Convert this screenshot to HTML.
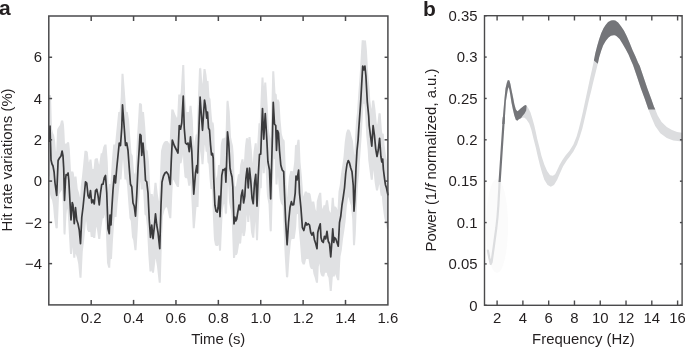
<!DOCTYPE html>
<html><head><meta charset="utf-8"><title>Figure</title>
<style>
html,body{margin:0;padding:0;background:#fff;}
body{width:685px;height:348px;overflow:hidden;font-family:"Liberation Sans",sans-serif;}
svg{display:block;will-change:transform;}
</style></head><body>
<svg width="685" height="348" viewBox="0 0 685 348"><rect width="685" height="348" fill="#fff"/><polygon points="49.00,95.00 49.25,95.00 49.50,95.00 49.75,95.00 50.00,95.00 50.25,95.00 50.50,95.00 50.75,95.00 51.00,95.00 51.25,103.50 51.50,112.00 51.75,120.50 52.00,129.00 52.25,130.00 52.50,131.00 52.75,132.00 53.00,133.00 53.25,133.50 53.50,134.00 53.75,134.50 54.00,135.00 54.10,135.55 54.25,136.36 54.50,137.73 54.75,139.09 55.00,140.45 55.25,142.83 55.50,145.89 55.75,148.94 56.00,152.00 56.25,150.75 56.50,144.50 56.70,139.50 56.75,138.25 57.00,132.00 57.25,129.23 57.50,128.79 57.75,128.34 58.00,127.89 58.10,127.71 58.25,127.45 58.50,127.00 58.75,126.67 59.00,126.33 59.25,126.00 59.50,125.67 59.75,125.33 60.00,125.00 60.25,123.86 60.50,122.73 60.75,121.59 61.00,120.45 61.25,120.45 61.50,120.45 61.75,120.45 62.00,120.45 62.10,120.00 62.25,120.45 62.50,120.45 62.75,120.45 63.00,120.45 63.25,120.83 63.50,122.22 63.70,123.33 63.75,123.61 64.00,125.00 64.25,129.29 64.50,133.57 64.75,139.03 65.00,144.42 65.25,143.56 65.50,143.56 65.75,143.56 66.00,143.56 66.10,143.50 66.25,143.56 66.50,143.50 66.75,142.88 67.00,142.25 67.25,142.25 67.30,142.12 67.50,142.25 67.75,142.25 68.00,142.25 68.10,142.00 68.25,142.25 68.50,142.25 68.75,142.25 68.80,142.12 69.00,142.25 69.25,143.50 69.50,146.00 69.75,148.50 69.80,149.00 70.00,152.70 70.25,157.33 70.50,161.95 70.75,166.58 71.00,171.08 71.25,171.50 71.50,171.50 71.75,171.50 72.00,171.50 72.25,171.50 72.50,171.50 72.75,171.50 73.00,171.50 73.25,171.50 73.50,172.33 73.75,173.17 74.00,174.00 74.25,177.75 74.50,176.50 74.75,176.50 75.00,176.50 75.25,176.50 75.50,176.50 75.75,176.50 76.00,176.50 76.25,176.50 76.50,176.50 76.75,179.00 77.00,181.50 77.25,184.00 77.50,186.50 77.75,189.00 78.00,189.75 78.25,190.50 78.50,191.25 78.75,192.00 79.00,192.75 79.25,194.00 79.50,195.25 79.75,196.50 80.00,197.75 80.25,197.00 80.50,191.75 80.75,186.50 81.00,184.50 81.25,182.50 81.50,180.50 81.75,178.50 82.00,176.50 82.25,174.00 82.50,171.50 82.75,169.00 83.00,166.50 83.25,164.00 83.50,161.35 83.75,158.70 84.00,156.05 84.25,153.40 84.50,150.75 84.75,150.75 85.00,150.75 85.25,150.75 85.50,150.75 85.75,150.75 86.00,150.75 86.25,150.75 86.50,150.75 86.75,151.00 87.00,151.25 87.25,151.50 87.50,151.75 87.75,152.00 88.00,154.50 88.25,157.00 88.50,159.50 88.75,162.00 89.00,162.50 89.25,161.00 89.50,159.50 89.75,159.50 90.00,159.50 90.25,159.50 90.50,159.50 90.75,159.50 91.00,159.50 91.25,159.50 91.50,159.50 91.75,162.00 92.00,164.50 92.25,167.00 92.50,169.00 92.75,169.00 93.00,169.00 93.25,169.00 93.50,169.00 93.75,167.60 94.00,164.90 94.25,162.20 94.50,159.50 94.75,159.25 95.00,159.00 95.25,158.75 95.50,158.50 95.75,158.25 96.00,158.25 96.25,158.25 96.50,158.25 96.75,158.25 97.00,158.25 97.25,158.25 97.50,158.25 97.75,158.25 98.00,159.50 98.25,160.75 98.50,162.00 98.75,163.25 99.00,164.50 99.25,164.40 99.50,162.00 99.75,160.25 100.00,158.50 100.25,156.75 100.50,155.00 100.75,153.25 101.00,153.25 101.25,153.25 101.50,153.25 101.75,153.25 102.00,153.25 102.25,152.00 102.50,150.75 102.75,149.50 103.00,148.25 103.25,147.00 103.50,146.50 103.75,146.00 104.00,145.50 104.25,145.00 104.50,144.50 104.75,144.50 105.00,144.50 105.25,144.50 105.50,144.50 105.75,144.50 106.00,144.50 106.25,144.50 106.50,144.50 106.75,148.00 107.00,151.50 107.25,155.00 107.50,158.50 107.75,162.00 108.00,169.15 108.25,176.30 108.50,183.45 108.75,190.25 109.00,184.00 109.25,184.00 109.50,184.00 109.75,184.00 110.00,184.00 110.25,184.00 110.50,184.00 110.75,179.00 111.00,175.00 111.25,171.00 111.50,167.00 111.75,163.00 112.00,159.00 112.25,156.10 112.50,153.20 112.75,150.30 113.00,147.40 113.25,144.50 113.50,144.50 113.75,144.50 114.00,144.50 114.25,144.50 114.50,144.50 114.75,144.50 115.00,144.50 115.25,143.00 115.50,140.00 115.75,137.00 116.00,134.50 116.25,132.00 116.50,129.50 116.75,127.00 117.00,124.50 117.25,122.00 117.50,119.50 117.75,117.00 118.00,114.50 118.25,112.00 118.50,112.00 118.75,112.00 119.00,112.00 119.25,112.00 119.50,112.00 119.75,111.00 120.00,107.50 120.25,104.00 120.50,100.50 120.75,97.00 121.00,89.25 121.25,81.50 121.50,73.75 121.75,73.75 122.00,73.75 122.25,73.75 122.50,73.75 122.75,73.75 123.00,73.75 123.25,73.75 123.50,73.75 123.75,77.07 124.00,80.39 124.25,83.71 124.50,87.04 124.75,90.36 125.00,93.68 125.25,97.00 125.50,100.50 125.75,104.00 126.00,107.50 126.25,111.00 126.50,112.00 126.75,112.00 127.00,112.00 127.25,112.00 127.50,112.00 127.75,112.00 128.00,113.50 128.25,115.00 128.50,116.50 128.75,118.00 129.00,119.50 129.25,123.00 129.50,126.50 129.75,130.00 130.00,133.50 130.25,137.00 130.50,140.25 130.75,143.50 131.00,146.75 131.25,150.00 131.50,153.25 131.75,153.75 132.00,154.25 132.25,154.75 132.50,155.25 132.75,155.75 133.00,159.00 133.25,162.25 133.50,165.50 133.75,168.75 134.00,172.00 134.25,172.65 134.50,173.30 134.75,173.95 135.00,174.60 135.25,172.50 135.50,168.25 135.75,164.00 136.00,158.60 136.25,153.20 136.50,147.80 136.75,142.40 137.00,137.00 137.25,133.00 137.50,129.00 137.75,125.00 138.00,121.00 138.25,117.00 138.50,112.42 138.75,107.83 139.00,103.25 139.25,103.25 139.50,103.25 139.75,103.25 140.00,103.25 140.25,103.25 140.50,103.25 140.75,103.25 141.00,103.25 141.25,103.56 141.50,103.88 141.75,104.19 142.00,104.50 142.25,111.17 142.50,112.00 142.75,112.00 143.00,112.00 143.25,112.00 143.50,112.00 143.75,112.00 144.00,112.00 144.25,115.00 144.50,118.00 144.75,121.00 145.00,124.00 145.25,127.00 145.50,131.50 145.75,136.00 146.00,140.50 146.25,145.00 146.50,149.50 146.75,149.75 147.00,150.00 147.25,150.25 147.50,150.50 147.75,150.75 148.00,153.00 148.25,155.25 148.50,157.50 148.75,159.75 149.00,162.00 149.25,167.40 149.50,172.80 149.75,178.20 150.00,183.60 150.25,189.00 150.50,192.50 150.75,194.00 151.00,194.00 151.25,194.00 151.50,194.00 151.75,194.00 152.00,194.00 152.25,194.00 152.50,194.00 152.75,194.00 153.00,196.75 153.25,196.50 153.50,193.75 153.75,191.00 154.00,188.25 154.25,185.50 154.50,182.75 154.75,182.75 155.00,182.75 155.25,182.75 155.50,182.75 155.75,182.75 156.00,182.75 156.25,182.75 156.50,182.75 156.75,185.00 157.00,187.25 157.25,189.50 157.50,191.75 157.75,194.00 158.00,195.50 158.25,197.00 158.50,198.50 158.75,200.00 159.00,201.50 159.25,200.25 159.50,191.50 159.75,182.75 160.00,174.00 160.25,168.25 160.50,162.50 160.75,156.75 161.00,151.00 161.25,150.00 161.50,149.00 161.75,148.00 162.00,147.00 162.25,146.00 162.50,145.00 162.75,144.50 163.00,144.00 163.25,143.50 163.50,143.00 163.75,142.50 164.00,142.00 164.25,141.83 164.50,141.67 164.75,141.50 165.00,141.33 165.25,141.17 165.50,141.00 165.75,141.00 166.00,141.00 166.25,141.00 166.50,141.00 166.75,141.00 167.00,141.00 167.25,141.00 167.50,141.00 167.75,141.33 168.00,141.67 168.25,142.00 168.30,142.07 168.50,142.33 168.75,142.67 169.00,143.00 169.25,143.33 169.50,144.41 169.75,142.48 170.00,136.35 170.25,130.23 170.30,129.00 170.50,125.00 170.75,120.00 171.00,115.00 171.25,110.00 171.30,109.00 171.50,109.56 171.75,109.56 172.00,109.56 172.25,109.56 172.30,109.00 172.50,109.56 172.75,109.56 173.00,109.56 173.25,109.56 173.50,109.56 173.75,110.27 174.00,110.97 174.25,111.68 174.50,112.38 174.75,113.09 175.00,113.79 175.25,114.50 175.50,115.00 175.75,115.50 176.00,116.00 176.25,116.50 176.50,117.00 176.75,117.50 177.00,118.00 177.25,116.50 177.50,111.00 177.75,105.50 178.00,100.00 178.25,94.50 178.50,94.50 178.75,94.50 179.00,94.50 179.25,94.50 179.50,94.50 179.75,94.50 180.00,94.50 180.25,94.50 180.50,93.25 180.75,92.00 181.00,87.50 181.25,83.00 181.50,78.50 181.75,74.00 182.00,69.50 182.25,65.00 182.50,65.00 182.75,65.00 183.00,65.00 183.25,65.00 183.50,65.00 183.75,65.00 184.00,65.00 184.25,65.00 184.50,73.00 184.75,81.00 185.00,89.00 185.25,97.00 185.50,100.00 185.75,103.00 186.00,106.00 186.25,109.00 186.50,112.00 186.75,112.25 187.00,112.00 187.25,112.00 187.50,112.00 187.75,112.00 188.00,112.00 188.25,112.00 188.50,112.00 188.75,112.00 189.00,111.75 189.25,108.75 189.50,105.75 189.75,105.75 190.00,105.75 190.25,105.75 190.50,105.75 190.75,105.75 191.00,105.75 191.25,105.75 191.50,105.75 191.75,108.50 192.00,111.25 192.25,114.00 192.50,116.75 192.75,119.50 193.00,125.00 193.25,130.50 193.50,136.00 193.75,141.50 194.00,147.00 194.25,145.04 194.50,142.00 194.75,140.50 195.00,139.00 195.25,137.50 195.50,136.00 195.75,134.50 196.00,134.50 196.25,134.50 196.50,134.50 196.75,133.25 197.00,124.50 197.25,117.40 197.50,110.30 197.75,103.20 198.00,96.10 198.25,89.00 198.50,82.24 198.75,75.47 199.00,68.71 199.25,68.17 199.50,68.17 199.75,68.17 200.00,68.17 200.10,66.00 200.25,68.17 200.50,68.17 200.75,68.17 201.00,68.17 201.25,68.17 201.50,71.78 201.75,75.39 202.00,79.00 202.25,82.38 202.50,84.00 202.75,80.25 203.00,76.50 203.25,72.75 203.50,69.00 203.75,69.00 204.00,69.00 204.25,69.00 204.50,69.00 204.75,69.00 205.00,69.00 205.25,69.00 205.50,69.00 205.75,70.50 206.00,72.00 206.25,73.50 206.50,75.00 206.70,77.03 206.75,77.54 207.00,80.08 207.25,81.10 207.50,81.10 207.75,81.10 208.00,81.10 208.25,81.10 208.50,81.10 208.75,85.12 209.00,89.15 209.25,93.17 209.50,97.20 209.75,97.65 210.00,98.10 210.25,98.55 210.50,99.00 210.75,102.57 211.00,106.15 211.25,109.73 211.50,113.30 211.75,115.98 212.00,118.65 212.25,121.32 212.50,122.40 212.75,122.40 213.00,122.40 213.20,122.48 213.25,122.40 213.50,122.40 213.70,123.71 213.75,124.04 214.00,125.69 214.25,128.96 214.50,138.76 214.75,147.75 214.90,151.20 215.00,153.50 215.25,159.25 215.50,165.00 215.75,170.75 216.00,174.73 216.25,176.05 216.50,177.36 216.75,178.28 217.00,177.00 217.20,174.60 217.25,174.00 217.50,171.00 217.75,168.00 218.00,165.00 218.25,165.00 218.50,165.00 218.75,165.00 219.00,165.00 219.25,165.00 219.50,165.00 219.75,165.00 220.00,162.26 220.25,156.65 220.50,151.04 220.70,146.55 220.75,145.42 221.00,143.33 221.25,142.13 221.50,140.92 221.75,139.71 221.80,139.47 222.00,138.50 222.25,138.50 222.50,138.50 222.75,138.50 223.00,138.50 223.25,138.50 223.50,138.50 223.75,138.12 224.00,137.72 224.20,137.40 224.25,137.72 224.50,137.72 224.75,137.72 225.00,137.72 225.20,137.40 225.25,137.72 225.50,134.55 225.75,127.23 225.90,121.94 226.00,118.41 226.25,109.58 226.50,100.75 226.70,102.52 226.75,100.75 227.00,100.75 227.25,100.75 227.50,100.75 227.75,100.75 228.00,100.75 228.25,100.75 228.50,100.75 228.75,103.00 229.00,105.25 229.25,107.50 229.50,109.75 229.75,112.00 230.00,117.00 230.25,122.00 230.50,127.00 230.75,132.00 231.00,137.00 231.25,138.25 231.50,139.50 231.75,140.75 232.00,142.00 232.25,143.00 232.50,144.00 232.75,145.00 232.80,145.20 233.00,146.00 233.25,149.06 233.50,152.12 233.75,155.19 234.00,162.00 234.25,169.75 234.50,177.50 234.75,185.25 234.90,186.00 235.00,186.50 235.25,186.50 235.50,186.50 235.70,186.25 235.75,186.50 236.00,186.09 236.25,184.50 236.50,182.91 236.70,181.64 236.75,181.32 237.00,179.87 237.25,178.45 237.50,177.03 237.75,175.62 237.80,175.33 238.00,174.20 238.25,174.20 238.50,174.20 238.75,174.20 239.00,174.20 239.25,174.20 239.50,173.91 239.75,170.73 240.00,167.55 240.10,166.27 240.25,164.78 240.50,163.66 240.75,162.55 241.00,161.43 241.20,160.54 241.25,160.32 241.50,159.20 241.75,159.20 242.00,159.20 242.25,159.20 242.50,159.20 242.75,159.20 243.00,159.20 243.25,159.20 243.50,159.20 243.60,160.36 243.75,162.11 244.00,161.73 244.25,157.64 244.50,153.55 244.75,149.45 244.80,148.64 245.00,146.20 245.25,144.20 245.50,142.20 245.75,140.20 245.90,139.00 246.00,138.20 246.25,138.20 246.50,138.20 246.75,138.20 247.00,138.20 247.10,137.40 247.25,138.20 247.50,138.20 247.75,138.20 248.00,138.20 248.25,139.96 248.50,137.00 248.75,137.00 249.00,137.00 249.25,137.00 249.50,137.00 249.75,137.00 250.00,137.00 250.25,137.00 250.50,137.00 250.75,139.50 251.00,142.00 251.25,144.50 251.50,147.00 251.75,149.50 252.00,153.00 252.25,156.50 252.50,160.00 252.75,163.50 253.00,160.30 253.25,156.15 253.50,152.00 253.75,150.25 254.00,148.50 254.25,146.75 254.50,145.00 254.75,143.25 255.00,143.25 255.25,143.25 255.50,143.25 255.75,143.25 256.00,143.25 256.25,143.25 256.50,143.25 256.75,143.25 257.00,149.65 257.25,144.50 257.50,140.25 257.75,136.00 258.00,131.75 258.25,127.50 258.50,123.25 258.75,123.25 259.00,123.25 259.25,123.25 259.50,123.25 259.75,123.25 260.00,116.17 260.25,109.08 260.50,102.00 260.75,95.88 261.00,89.75 261.25,83.62 261.50,77.50 261.75,77.50 262.00,77.50 262.25,77.50 262.50,77.50 262.75,77.50 263.00,77.50 263.25,77.50 263.50,77.50 263.75,83.65 264.00,86.79 264.25,82.50 264.50,82.50 264.75,82.50 265.00,82.50 265.25,82.50 265.50,82.50 265.75,82.50 266.00,82.50 266.25,82.50 266.50,86.50 266.75,90.50 267.00,94.50 267.25,98.88 267.50,103.25 267.75,107.62 267.90,110.25 268.00,112.00 268.25,117.14 268.50,122.28 268.75,127.42 269.00,131.03 269.25,132.36 269.50,133.69 269.75,135.02 270.00,136.34 270.25,137.67 270.50,138.67 270.70,131.33 270.75,129.50 271.00,120.33 271.25,111.17 271.50,102.00 271.75,91.75 272.00,81.50 272.25,71.25 272.50,71.25 272.75,71.25 273.00,71.25 273.25,71.25 273.50,71.25 273.75,71.25 274.00,71.25 274.25,71.25 274.50,75.65 274.75,80.05 275.00,84.45 275.25,88.85 275.50,93.25 275.75,93.50 276.00,93.75 276.25,94.00 276.50,94.25 276.75,94.50 277.00,99.50 277.25,99.50 277.50,99.50 277.75,99.50 278.00,99.50 278.25,99.50 278.50,99.50 278.75,100.12 279.00,100.75 279.25,101.38 279.50,102.00 279.75,106.38 280.00,110.75 280.25,115.12 280.50,119.50 280.75,122.29 280.80,122.85 281.00,125.08 281.25,127.87 281.50,130.65 281.75,133.44 282.00,134.71 282.20,135.43 282.25,135.61 282.50,136.50 282.75,137.39 283.00,138.29 283.25,139.05 283.50,139.32 283.70,139.53 283.75,139.59 284.00,139.85 284.25,140.12 284.50,140.39 284.75,141.94 285.00,148.63 285.25,155.31 285.50,162.00 285.70,166.80 285.75,168.00 286.00,174.00 286.25,180.00 286.50,186.00 286.75,191.62 287.00,195.73 287.10,197.37 287.25,196.17 287.50,192.33 287.75,189.27 288.00,186.71 288.25,184.16 288.50,181.61 288.60,180.59 288.75,179.05 289.00,176.50 289.25,175.46 289.50,174.43 289.75,173.39 290.00,172.36 290.25,171.32 290.50,171.00 290.75,171.00 291.00,171.00 291.25,171.00 291.40,170.70 291.50,171.00 291.75,171.00 292.00,171.00 292.25,171.00 292.50,171.00 292.75,171.75 293.00,171.30 293.25,169.38 293.50,167.47 293.70,165.93 293.75,165.55 294.00,163.63 294.25,161.03 294.50,155.69 294.75,150.34 295.00,145.00 295.20,145.80 295.25,145.00 295.50,145.00 295.75,145.00 296.00,145.00 296.25,145.00 296.50,145.00 296.75,144.36 297.00,142.81 297.25,141.27 297.50,139.72 297.75,139.72 298.00,139.72 298.25,139.72 298.50,139.72 298.60,139.10 298.75,139.72 299.00,139.72 299.25,139.72 299.50,139.72 299.75,142.93 300.00,149.32 300.25,155.71 300.50,162.10 300.75,164.67 300.90,166.21 301.00,167.24 301.25,169.81 301.50,172.39 301.75,174.96 302.00,177.84 302.25,181.19 302.40,183.20 302.50,184.54 302.75,187.89 303.00,191.24 303.25,194.59 303.50,196.63 303.75,195.60 303.80,195.40 304.00,194.58 304.25,193.55 304.50,192.53 304.75,191.50 305.00,191.50 305.25,191.50 305.50,191.50 305.75,191.50 306.00,191.50 306.25,191.50 306.50,191.50 306.75,191.50 307.00,192.00 307.25,192.50 307.50,192.75 307.75,192.75 308.00,192.75 308.25,192.75 308.50,192.75 308.75,192.75 309.00,192.75 309.25,192.75 309.50,193.00 309.75,193.25 310.00,193.50 310.25,193.75 310.50,194.00 310.75,195.50 311.00,197.00 311.25,198.50 311.50,200.00 311.75,201.50 312.00,202.00 312.25,201.50 312.50,201.50 312.75,201.50 313.00,201.50 313.25,201.50 313.50,201.50 313.75,201.50 314.00,201.50 314.25,201.50 314.50,203.00 314.75,204.50 315.00,206.00 315.25,207.50 315.50,209.00 315.75,209.75 316.00,210.50 316.25,211.25 316.50,206.92 316.75,201.50 317.00,200.50 317.25,199.50 317.50,198.50 317.75,197.50 318.00,196.50 318.25,195.75 318.50,195.00 318.75,194.25 319.00,193.50 319.25,192.75 319.50,192.75 319.75,192.75 320.00,192.75 320.25,192.75 320.50,192.75 320.75,192.75 321.00,192.75 321.25,192.75 321.50,197.33 321.75,201.92 322.00,206.50 322.25,207.44 322.50,208.38 322.75,209.00 323.00,207.75 323.25,206.50 323.50,205.25 323.75,205.25 324.00,205.25 324.25,205.25 324.50,205.25 324.75,205.25 325.00,205.25 325.25,204.75 325.50,203.25 325.75,201.75 326.00,200.25 326.25,200.25 326.50,200.25 326.75,200.25 327.00,200.25 327.25,200.25 327.50,200.25 327.75,200.25 328.00,200.25 328.25,202.25 328.50,204.25 328.75,206.25 329.00,208.25 329.25,210.25 329.50,210.75 329.75,211.25 330.00,211.75 330.25,212.25 330.50,212.75 330.75,212.40 331.00,209.00 331.25,205.25 331.50,201.50 331.75,197.75 332.00,197.75 332.25,197.75 332.50,197.75 332.75,197.75 333.00,197.75 333.25,197.75 333.50,197.75 333.75,197.75 334.00,201.19 334.25,204.62 334.50,206.50 334.75,206.50 335.00,206.50 335.25,206.50 335.50,206.50 335.75,206.75 336.00,207.00 336.25,207.25 336.50,207.50 336.75,207.75 337.00,208.50 337.25,209.25 337.50,210.00 337.75,205.75 338.00,201.00 338.25,196.25 338.50,191.50 338.75,190.25 339.00,189.00 339.25,187.75 339.50,186.50 339.75,185.25 340.00,183.00 340.25,180.75 340.50,178.50 340.75,176.25 341.00,174.00 341.25,172.40 341.50,170.80 341.75,169.20 342.00,167.60 342.25,166.00 342.50,164.20 342.75,162.40 343.00,160.60 343.25,158.80 343.50,157.00 343.75,154.00 344.00,151.00 344.25,148.00 344.50,145.00 344.75,142.00 345.00,140.25 345.25,138.50 345.50,136.75 345.75,135.00 346.00,133.25 346.25,132.50 346.50,131.75 346.75,131.00 347.00,130.25 347.25,129.50 347.50,129.50 347.75,129.50 348.00,129.50 348.25,129.50 348.50,129.50 348.75,129.50 349.00,129.50 349.25,129.50 349.50,130.00 349.75,130.50 350.00,131.00 350.25,131.50 350.50,132.00 350.75,133.00 351.00,134.00 351.25,135.00 351.50,136.00 351.75,137.00 352.00,137.75 352.25,138.62 352.50,139.50 352.75,140.38 353.00,141.25 353.25,144.12 353.50,147.00 353.75,149.88 354.00,152.75 354.25,155.62 354.50,151.05 354.75,144.78 355.00,138.50 355.25,134.25 355.50,130.00 355.75,125.75 356.00,121.50 356.25,119.24 356.50,116.98 356.75,114.72 357.00,112.45 357.25,109.13 357.50,105.08 357.75,101.17 358.00,97.77 358.10,96.41 358.25,94.37 358.50,90.97 358.70,88.25 358.75,87.57 359.00,84.17 359.25,80.77 359.50,77.37 359.75,73.78 360.00,69.43 360.25,65.08 360.50,60.73 360.70,57.25 360.75,56.38 361.00,52.03 361.25,47.68 361.50,43.33 361.75,40.08 362.00,40.20 362.25,40.20 362.50,40.20 362.70,40.00 362.75,40.20 363.00,40.20 363.25,40.20 363.50,40.20 363.70,40.00 363.75,40.20 364.00,40.50 364.25,40.50 364.50,40.50 364.75,40.50 364.90,40.00 365.00,40.50 365.25,40.50 365.50,40.50 365.75,40.50 365.90,40.00 366.00,41.00 366.25,43.50 366.50,46.00 366.75,48.50 367.00,51.84 367.25,56.45 367.30,57.37 367.50,61.06 367.75,65.66 368.00,70.27 368.25,74.88 368.50,77.83 368.70,79.86 368.75,80.36 369.00,82.90 369.20,84.93 369.25,85.44 369.50,87.97 369.75,90.95 370.00,95.70 370.25,99.90 370.50,101.90 370.75,103.90 371.00,105.90 371.25,107.90 371.50,109.05 371.75,105.07 371.80,104.28 372.00,101.09 372.25,100.60 372.50,100.60 372.75,100.60 373.00,100.60 373.10,99.50 373.25,100.60 373.50,100.60 373.75,100.60 374.00,100.60 374.25,100.60 374.40,101.69 374.50,102.42 374.75,104.25 375.00,106.08 375.25,107.90 375.50,110.06 375.70,112.18 375.75,112.72 376.00,115.37 376.25,118.02 376.50,120.68 376.75,123.10 377.00,124.58 377.25,124.25 377.50,122.22 377.75,119.98 378.00,117.75 378.25,115.52 378.30,115.08 378.50,113.29 378.75,113.29 379.00,113.29 379.25,113.29 379.50,113.29 379.60,112.40 379.75,113.29 380.00,113.29 380.25,113.29 380.50,113.29 380.75,114.49 380.90,116.58 381.00,117.97 381.25,121.45 381.50,124.93 381.75,128.41 381.80,129.11 382.00,131.11 382.25,132.64 382.50,133.74 382.70,133.10 382.75,133.74 383.00,133.74 383.25,133.74 383.40,133.26 383.50,133.74 383.75,133.84 384.00,137.56 384.25,141.27 384.50,144.29 384.70,145.88 384.75,146.27 385.00,148.25 385.25,150.23 385.50,152.22 385.75,154.13 386.00,155.75 386.25,157.38 386.50,159.00 386.75,159.75 387.00,160.50 387.25,161.25 387.50,162.00 387.75,163.22 388.00,164.43 388.00,229.30 387.75,229.30 387.50,229.30 387.25,229.30 387.00,229.30 386.75,228.08 386.50,226.87 386.25,225.65 386.00,224.43 385.75,223.22 385.50,222.00 385.25,221.25 385.00,220.50 384.75,219.75 384.70,219.60 384.50,219.00 384.25,217.38 384.00,215.75 383.75,214.13 383.50,212.22 383.40,211.42 383.25,210.23 383.00,208.25 382.75,206.27 382.70,205.88 382.50,204.29 382.25,201.27 382.00,197.56 381.80,196.00 381.75,195.69 381.50,195.69 381.25,195.69 381.00,195.69 380.90,195.68 380.75,195.69 380.50,194.17 380.25,192.64 380.00,191.11 379.75,188.41 379.60,186.32 379.50,184.93 379.25,184.25 379.00,185.50 378.75,186.75 378.50,188.00 378.30,189.00 378.25,189.25 378.00,190.50 377.75,190.50 377.50,190.50 377.25,190.50 377.00,190.50 376.75,190.50 376.50,190.50 376.25,190.50 376.00,190.50 375.75,189.02 375.70,188.72 375.50,187.54 375.25,186.06 375.00,184.58 374.75,183.10 374.50,180.68 374.40,179.62 374.25,178.02 374.00,175.37 373.75,172.72 373.50,170.06 373.25,173.03 373.10,175.42 373.00,177.02 372.75,179.80 372.50,179.80 372.25,179.80 372.00,179.80 371.80,180.20 371.75,179.80 371.50,179.80 371.25,179.80 371.00,179.80 370.75,179.80 370.50,177.82 370.25,175.84 370.00,173.86 369.75,171.88 369.50,169.90 369.25,167.90 369.20,167.50 369.00,165.90 368.75,163.90 368.70,163.50 368.50,161.90 368.25,159.90 368.00,155.70 367.75,150.95 367.50,147.97 367.30,145.94 367.25,145.44 367.00,142.90 366.75,140.36 366.50,137.83 366.25,134.88 366.00,130.27 365.90,128.43 365.75,125.66 365.50,121.06 365.25,116.45 365.00,111.84 364.90,110.00 364.75,108.50 364.50,106.00 364.25,103.83 364.00,103.83 363.75,103.83 363.70,104.00 363.50,103.83 363.25,108.05 363.00,112.53 362.75,117.00 362.70,117.90 362.50,121.48 362.25,125.95 362.00,130.43 361.75,134.90 361.50,138.62 361.25,142.14 361.00,145.67 360.75,149.19 360.70,149.90 360.50,152.72 360.25,156.24 360.00,159.77 359.75,163.29 359.50,167.33 359.25,171.50 359.00,174.95 358.75,177.34 358.70,177.82 358.50,179.73 358.25,182.11 358.10,183.55 358.00,184.50 357.75,188.88 357.50,193.25 357.25,197.62 357.00,202.00 356.75,208.40 356.50,214.80 356.25,221.20 356.00,227.60 355.75,234.00 355.50,237.75 355.25,241.50 355.00,245.25 354.75,245.25 354.50,245.25 354.25,245.25 354.00,245.25 353.75,245.25 353.50,245.25 353.25,245.25 353.00,245.25 352.75,236.67 352.50,228.08 352.25,219.50 352.00,216.75 351.75,214.00 351.50,211.25 351.25,208.50 351.00,205.75 350.75,205.00 350.50,204.25 350.25,203.50 350.00,202.75 349.75,202.00 349.50,201.00 349.25,200.00 349.00,199.00 348.75,198.00 348.50,197.00 348.25,197.50 348.00,198.25 347.75,200.00 347.50,201.75 347.25,203.50 347.00,205.25 346.75,207.00 346.50,210.00 346.25,213.00 346.00,216.00 345.75,219.00 345.50,222.00 345.25,223.80 345.00,225.60 344.75,227.40 344.50,229.20 344.25,231.00 344.00,232.60 343.75,234.20 343.50,235.80 343.25,237.40 343.00,239.00 342.75,241.25 342.50,243.50 342.25,245.75 342.00,248.00 341.75,250.25 341.50,251.50 341.25,252.75 341.00,254.00 340.75,255.25 340.50,256.50 340.25,261.25 340.00,266.00 339.75,270.75 339.50,275.50 339.25,280.25 339.00,280.25 338.75,280.25 338.50,280.25 338.25,280.25 338.00,280.25 337.75,280.25 337.50,280.25 337.25,280.25 337.00,279.50 336.75,278.75 336.50,278.00 336.25,277.25 336.00,276.50 335.75,275.75 335.50,275.00 335.25,274.25 335.00,274.83 334.75,276.50 334.50,276.50 334.25,276.50 334.00,276.50 333.75,276.50 333.50,276.50 333.25,276.50 333.00,276.50 332.75,277.40 332.50,280.80 332.25,284.20 332.00,287.60 331.75,291.00 331.50,291.00 331.25,291.00 331.00,291.00 330.75,291.00 330.50,291.00 330.25,291.00 330.00,291.00 329.75,291.00 329.50,288.35 329.25,285.70 329.00,283.05 328.75,280.40 328.50,277.75 328.25,277.25 328.00,276.75 327.75,276.25 327.50,275.75 327.25,275.25 327.00,273.25 326.75,272.75 326.50,272.75 326.25,272.75 326.00,272.75 325.75,272.75 325.50,272.75 325.25,272.75 325.00,272.75 324.75,274.00 324.50,275.25 324.25,276.50 324.00,276.50 323.75,276.50 323.50,276.50 323.25,276.50 323.00,276.50 322.75,276.50 322.50,276.50 322.25,276.50 322.00,276.25 321.75,276.00 321.50,275.75 321.25,275.50 321.00,275.25 320.75,274.31 320.50,273.38 320.25,272.44 320.00,271.50 319.75,266.92 319.50,263.50 319.25,264.50 319.00,265.50 318.75,266.50 318.50,271.92 318.25,277.33 318.00,282.75 317.75,282.75 317.50,282.75 317.25,282.75 317.00,282.75 316.75,282.75 316.50,282.75 316.25,282.75 316.00,282.75 315.75,281.75 315.50,280.75 315.25,279.75 315.00,278.75 314.75,277.75 314.50,277.00 314.25,276.25 314.00,275.50 313.75,274.75 313.50,274.00 313.25,272.50 313.00,271.00 312.75,269.50 312.50,269.00 312.25,269.00 312.00,269.00 311.75,269.00 311.50,269.00 311.25,269.00 311.00,269.00 310.75,268.50 310.50,268.00 310.25,267.50 310.00,267.00 309.75,266.50 309.50,265.00 309.25,263.50 309.00,262.00 308.75,260.50 308.50,259.00 308.25,258.75 308.00,259.00 307.75,259.00 307.50,259.00 307.25,259.00 307.00,259.00 306.75,259.00 306.50,259.00 306.25,259.00 306.00,259.58 305.75,260.60 305.50,261.63 305.25,262.65 305.00,263.68 304.75,264.40 304.50,264.40 304.25,264.40 304.00,264.40 303.80,264.50 303.75,264.40 303.50,264.40 303.25,264.40 303.00,264.40 302.75,264.40 302.50,263.88 302.40,263.67 302.25,263.36 302.00,262.84 301.75,262.33 301.50,261.81 301.25,259.59 301.00,256.24 300.90,254.90 300.75,252.89 300.50,249.54 300.25,246.19 300.00,242.84 299.75,239.96 299.50,237.39 299.25,234.81 299.00,232.24 298.75,229.67 298.60,228.13 298.50,227.10 298.25,220.71 298.00,214.32 297.75,214.00 297.50,214.00 297.25,214.00 297.00,214.00 296.75,215.34 296.50,220.69 296.25,226.03 296.00,228.63 295.75,230.55 295.50,232.47 295.25,234.38 295.20,234.77 295.00,236.30 294.75,238.22 294.50,238.67 294.25,238.75 294.00,238.83 293.75,238.92 293.70,238.93 293.50,239.00 293.25,239.00 293.00,239.00 292.75,239.00 292.50,239.00 292.25,239.00 292.00,239.00 291.75,239.00 291.50,239.43 291.40,239.84 291.25,240.46 291.00,241.50 290.75,244.05 290.50,246.61 290.25,249.16 290.00,251.71 289.75,254.27 289.50,257.33 289.25,261.17 289.00,265.00 288.75,268.83 288.60,271.13 288.50,272.67 288.25,276.50 288.00,277.16 287.75,277.16 287.50,277.16 287.25,277.16 287.10,278.80 287.00,277.16 286.75,277.16 286.50,277.16 286.25,277.16 286.00,277.16 285.75,273.05 285.70,272.23 285.50,268.94 285.25,264.84 285.00,260.73 284.75,256.62 284.50,251.00 284.25,245.00 284.00,239.00 283.75,233.00 283.70,231.80 283.50,227.00 283.25,220.31 283.00,213.63 282.75,206.94 282.50,205.39 282.25,205.12 282.20,205.07 282.00,204.85 281.75,204.59 281.50,204.32 281.25,204.05 281.00,203.29 280.80,202.57 280.75,202.39 280.50,201.50 280.25,200.61 280.00,199.71 279.75,198.44 279.50,195.65 279.25,192.87 279.00,190.08 278.75,187.29 278.50,184.50 278.25,180.12 278.00,175.75 277.75,179.50 277.50,184.50 277.25,184.50 277.00,184.50 276.75,184.50 276.50,184.50 276.25,184.50 276.00,184.50 275.75,184.50 275.50,184.50 275.25,176.17 275.00,167.83 274.75,159.50 274.50,159.25 274.25,159.00 274.00,158.75 273.75,158.50 273.50,167.00 273.25,176.17 273.00,185.33 272.75,194.50 272.50,203.67 272.25,212.83 272.00,222.00 271.75,231.17 271.50,231.17 271.25,231.17 271.00,231.17 270.75,231.17 270.70,233.00 270.50,231.17 270.25,231.17 270.00,231.17 269.75,231.17 269.50,228.17 269.25,222.13 269.00,216.08 268.75,210.04 268.50,204.00 268.25,202.67 268.00,201.34 267.90,200.81 267.75,200.02 267.50,198.69 267.25,197.36 267.00,196.03 266.75,192.42 266.50,187.28 266.25,182.14 266.00,177.00 265.75,172.62 265.50,168.25 265.25,164.67 265.00,168.96 264.75,173.25 264.50,173.25 264.25,173.25 264.00,173.25 263.75,173.25 263.50,173.25 263.25,173.25 263.00,173.25 262.75,173.25 262.50,167.10 262.25,174.08 262.00,181.17 261.75,188.25 261.50,188.25 261.25,188.25 261.00,188.25 260.75,188.25 260.50,188.25 260.25,192.50 260.00,196.75 259.75,201.00 259.50,205.25 259.25,209.50 259.00,215.65 258.75,221.80 258.50,227.95 258.25,234.10 258.00,240.25 257.75,240.25 257.50,240.25 257.25,240.25 257.00,240.25 256.75,240.25 256.50,240.25 256.25,240.25 256.00,240.25 255.75,233.85 255.50,227.45 255.25,221.15 255.00,225.30 254.75,229.45 254.50,233.60 254.25,237.75 254.00,237.75 253.75,237.75 253.50,237.75 253.25,237.75 253.00,237.75 252.75,237.75 252.50,237.75 252.25,237.75 252.00,236.60 251.75,235.45 251.50,234.30 251.25,233.15 251.00,232.00 250.75,228.50 250.50,225.00 250.25,221.50 250.00,218.00 249.75,214.50 249.50,218.00 249.25,222.00 249.00,222.00 248.75,222.00 248.50,222.00 248.25,222.00 248.00,222.00 247.75,222.00 247.50,222.00 247.25,222.00 247.10,219.44 247.00,217.74 246.75,214.45 246.50,218.55 246.25,222.64 246.00,226.73 245.90,228.36 245.75,230.29 245.50,231.75 245.25,233.21 245.00,234.67 244.80,235.83 244.75,236.12 244.50,236.12 244.25,236.12 244.00,236.12 243.75,236.12 243.60,237.00 243.50,236.12 243.25,236.12 243.00,236.12 242.75,236.12 242.50,235.84 242.25,232.93 242.00,232.55 241.75,235.73 241.50,238.91 241.25,242.09 241.20,242.73 241.00,243.56 240.75,243.56 240.50,243.56 240.25,243.56 240.10,244.00 240.00,243.56 239.75,243.56 239.50,243.56 239.25,243.56 239.00,244.87 238.75,246.32 238.50,247.91 238.25,249.50 238.00,251.09 237.80,252.36 237.75,252.68 237.50,253.40 237.25,253.90 237.00,254.40 236.75,254.90 236.70,255.00 236.50,254.90 236.25,254.90 236.00,254.90 235.75,254.90 235.70,255.00 235.50,254.90 235.25,256.06 235.00,258.00 234.90,256.83 234.75,258.00 234.50,258.00 234.25,258.00 234.00,258.00 233.75,258.00 233.50,258.00 233.25,258.00 233.00,258.00 232.80,251.80 232.75,250.25 232.50,242.50 232.25,234.75 232.00,227.00 231.75,220.19 231.50,217.12 231.25,214.06 231.00,211.00 230.75,210.00 230.50,209.00 230.25,208.00 230.00,207.00 229.75,205.75 229.50,204.50 229.25,203.25 229.00,202.00 228.75,197.00 228.50,192.00 228.25,187.00 228.00,183.41 227.75,192.23 227.50,199.55 227.25,206.49 227.00,213.43 226.75,213.43 226.70,214.81 226.50,213.43 226.25,213.43 226.00,213.43 225.90,216.20 225.75,213.43 225.50,213.43 225.25,213.43 225.20,214.81 225.00,213.43 224.75,213.24 224.50,208.31 224.25,203.92 224.20,204.00 224.00,203.92 223.75,204.71 223.50,205.92 223.25,207.13 223.00,208.33 222.75,210.42 222.50,216.04 222.25,221.65 222.00,227.26 221.80,231.75 221.75,232.88 221.50,238.77 221.25,244.74 221.00,250.70 220.75,250.70 220.70,249.66 220.50,250.70 220.25,250.70 220.00,250.70 219.75,250.70 219.50,250.70 219.25,250.70 219.00,250.70 218.75,245.52 218.50,244.56 218.25,245.84 218.00,245.92 217.75,245.92 217.50,245.92 217.25,245.92 217.20,246.10 217.00,245.92 216.75,245.92 216.50,245.92 216.25,245.92 216.00,245.92 215.75,245.69 215.50,245.46 215.25,245.23 215.00,245.00 214.90,244.47 214.75,243.68 214.50,242.36 214.25,241.05 214.00,239.73 213.75,235.75 213.70,234.60 213.50,230.00 213.25,224.25 213.20,223.10 213.00,218.50 212.75,212.75 212.50,203.76 212.25,193.96 212.00,190.69 211.75,189.04 211.50,189.00 211.25,189.00 211.00,189.00 210.75,189.00 210.50,189.00 210.25,186.32 210.00,183.65 209.75,180.98 209.50,178.30 209.25,174.73 209.00,171.15 208.75,167.57 208.50,164.00 208.25,163.55 208.00,163.10 207.75,162.65 207.50,162.20 207.25,158.17 207.00,154.15 206.75,151.82 206.70,152.20 206.50,151.82 206.25,151.82 206.00,151.82 205.75,151.82 205.50,150.17 205.25,147.63 205.00,145.08 204.75,145.25 204.50,149.00 204.25,152.82 204.00,156.65 203.75,160.48 203.50,164.30 203.25,164.30 203.00,164.30 202.75,164.30 202.50,164.30 202.25,164.30 202.00,164.30 201.75,164.30 201.50,164.30 201.25,160.92 201.00,157.53 200.75,154.15 200.50,150.77 200.25,154.00 200.10,158.26 200.00,161.10 199.75,168.20 199.50,175.30 199.25,182.40 199.00,189.50 198.75,198.25 198.50,207.00 198.25,207.00 198.00,207.00 197.75,207.00 197.50,207.00 197.25,207.00 197.00,207.00 196.75,207.00 196.50,207.00 196.25,210.04 196.00,213.07 195.75,216.11 195.50,219.14 195.25,222.18 195.00,225.21 194.75,228.25 194.50,228.25 194.25,228.25 194.00,228.25 193.75,228.25 193.50,228.25 193.25,228.25 193.00,228.25 192.75,228.25 192.50,222.83 192.25,217.42 192.00,212.00 191.75,206.50 191.50,201.00 191.25,195.50 191.00,190.00 190.75,184.50 190.50,182.75 190.25,185.75 190.00,185.75 189.75,185.75 189.50,185.75 189.25,185.75 189.00,185.75 188.75,185.75 188.50,185.75 188.25,185.75 188.00,184.00 187.75,182.25 187.50,180.50 187.25,178.75 187.00,178.25 186.75,178.25 186.50,178.25 186.25,178.25 186.00,178.25 185.75,178.25 185.50,178.00 185.25,177.75 185.00,177.50 184.75,177.25 184.50,177.00 184.25,174.00 184.00,171.00 183.75,168.00 183.50,165.00 183.25,162.00 183.00,154.00 182.75,157.00 182.50,158.25 182.25,159.50 182.00,160.75 181.75,162.00 181.50,163.25 181.25,163.25 181.00,163.25 180.75,163.25 180.50,163.25 180.25,163.25 180.00,165.00 179.75,170.50 179.50,176.00 179.25,181.50 179.00,187.00 178.75,187.00 178.50,187.00 178.25,187.00 178.00,187.00 177.75,187.00 177.50,187.00 177.25,187.00 177.00,187.00 176.75,186.50 176.50,186.00 176.25,185.50 176.00,185.00 175.75,184.50 175.50,184.00 175.25,183.50 175.00,183.00 174.75,182.50 174.50,182.00 174.25,181.50 174.00,181.00 173.75,180.50 173.50,180.00 173.25,179.50 173.00,180.00 172.75,185.00 172.50,190.00 172.30,194.00 172.25,195.23 172.00,201.35 171.75,207.48 171.50,213.60 171.30,218.50 171.25,218.25 171.00,218.25 170.75,218.25 170.50,218.25 170.30,218.50 170.25,218.25 170.00,218.25 169.75,218.25 169.50,218.25 169.25,218.25 169.00,216.98 168.75,215.72 168.50,214.46 168.30,213.45 168.25,213.20 168.00,211.93 167.75,210.67 167.50,209.41 167.25,208.33 167.00,208.00 166.75,207.67 166.50,207.33 166.25,207.00 166.00,207.00 165.75,207.50 165.50,208.00 165.25,208.50 165.00,209.00 164.75,209.50 164.50,210.00 164.25,211.00 164.00,212.00 163.75,213.00 163.50,214.00 163.25,215.00 163.00,216.00 162.75,221.75 162.50,227.50 162.25,233.25 162.00,239.00 161.75,247.75 161.50,256.50 161.25,265.25 161.00,274.00 160.75,282.75 160.50,282.75 160.25,282.75 160.00,282.75 159.75,282.75 159.50,282.75 159.25,282.75 159.00,282.75 158.75,282.75 158.50,280.43 158.25,278.11 158.00,275.79 157.75,273.46 157.50,271.14 157.25,268.82 157.00,266.50 156.75,265.00 156.50,263.50 156.25,262.00 156.00,260.50 155.75,259.00 155.50,258.75 155.25,261.50 155.00,263.75 154.75,266.00 154.50,268.25 154.25,270.50 154.00,272.75 153.75,272.75 153.50,272.75 153.25,272.75 153.00,272.75 152.75,272.75 152.50,272.75 152.25,272.75 152.00,272.75 151.75,270.00 151.50,271.50 151.25,271.50 151.00,271.50 150.75,271.50 150.50,271.50 150.25,271.50 150.00,271.50 149.75,271.50 149.50,271.50 149.25,268.00 149.00,264.50 148.75,261.00 148.50,257.50 148.25,254.00 148.00,248.60 147.75,243.20 147.50,237.80 147.25,232.40 147.00,227.00 146.75,224.75 146.50,222.50 146.25,220.25 146.00,218.00 145.75,215.75 145.50,215.50 145.25,215.25 145.00,215.00 144.75,214.75 144.50,214.50 144.25,210.00 144.00,205.50 143.75,201.00 143.50,196.50 143.25,192.00 143.00,189.00 142.75,189.50 142.50,189.50 142.25,189.50 142.00,189.50 141.75,189.50 141.50,189.50 141.25,189.50 141.00,189.50 140.75,189.50 140.50,182.83 140.25,182.00 140.00,186.00 139.75,190.00 139.50,194.00 139.25,198.00 139.00,202.00 138.75,207.40 138.50,212.80 138.25,218.20 138.00,223.60 137.75,229.00 137.50,233.25 137.25,237.50 137.00,241.75 136.75,246.00 136.50,250.25 136.25,250.25 136.00,250.25 135.75,250.25 135.50,250.25 135.25,250.25 135.00,250.25 134.75,250.25 134.50,250.25 134.25,248.25 134.00,246.25 133.75,244.25 133.50,242.25 133.25,240.25 133.00,239.60 132.75,238.95 132.50,238.30 132.25,237.65 132.00,237.00 131.75,233.75 131.50,230.50 131.25,227.25 131.00,224.00 130.75,220.75 130.50,220.25 130.25,219.75 130.00,219.25 129.75,218.75 129.50,218.25 129.25,215.00 129.00,211.75 128.75,208.50 128.50,205.25 128.25,202.00 128.00,198.50 127.75,195.00 127.50,191.50 127.25,188.00 127.00,184.50 126.75,183.00 126.50,181.50 126.25,180.00 126.00,179.50 125.75,179.50 125.50,179.50 125.25,179.50 125.00,179.50 124.75,179.50 124.50,179.50 124.25,176.00 124.00,172.50 123.75,169.00 123.50,165.50 123.25,162.00 123.00,158.68 122.75,162.00 122.50,165.50 122.25,169.00 122.00,172.50 121.75,176.00 121.50,179.50 121.25,179.50 121.00,179.50 120.75,179.50 120.50,179.50 120.25,179.50 120.00,179.50 119.75,182.00 119.50,184.50 119.25,187.00 119.00,189.50 118.75,192.00 118.50,194.50 118.25,197.00 118.00,199.50 117.75,202.00 117.50,205.00 117.25,208.00 117.00,211.00 116.75,214.00 116.50,217.00 116.25,217.00 116.00,217.00 115.75,217.00 115.50,217.00 115.25,217.00 115.00,217.00 114.75,217.00 114.50,218.20 114.25,221.10 114.00,224.00 113.75,228.00 113.50,232.00 113.25,236.00 113.00,240.00 112.75,244.00 112.50,249.00 112.25,254.00 112.00,259.00 111.75,259.00 111.50,259.00 111.25,259.00 111.00,259.00 110.75,259.00 110.50,261.50 110.25,267.75 110.00,267.75 109.75,267.75 109.50,267.75 109.25,267.75 109.00,267.75 108.75,267.75 108.50,267.75 108.25,267.75 108.00,266.75 107.75,265.75 107.50,264.75 107.25,263.75 107.00,262.75 106.75,255.60 106.50,248.45 106.25,241.30 106.00,234.15 105.75,227.00 105.50,223.50 105.25,220.00 105.00,216.50 104.75,214.50 104.50,215.75 104.25,217.00 104.00,218.25 103.75,218.25 103.50,218.25 103.25,218.25 103.00,218.25 102.75,218.25 102.50,220.00 102.25,221.75 102.00,223.50 101.75,225.25 101.50,227.00 101.25,229.40 101.00,231.80 100.75,234.20 100.50,236.60 100.25,239.00 100.00,239.00 99.75,239.00 99.50,239.00 99.25,239.00 99.00,239.00 98.75,239.00 98.50,239.00 98.25,239.00 98.00,237.10 97.75,235.20 97.50,233.30 97.25,231.40 97.00,229.50 96.75,228.25 96.50,227.00 96.25,227.20 96.00,229.90 95.75,232.60 95.50,235.30 95.25,238.00 95.00,238.00 94.75,238.00 94.50,238.00 94.25,238.00 94.00,238.00 93.75,238.00 93.50,238.00 93.25,238.00 93.00,237.20 92.75,237.00 92.50,237.00 92.25,237.00 92.00,237.00 91.75,237.00 91.50,237.00 91.25,237.00 91.00,237.00 90.75,237.00 90.50,234.50 90.25,232.00 90.00,232.00 89.75,232.00 89.50,232.00 89.25,232.00 89.00,232.00 88.75,232.00 88.50,232.00 88.25,232.00 88.00,231.50 87.75,231.00 87.50,230.50 87.25,230.00 87.00,229.50 86.75,227.00 86.50,224.50 86.25,222.00 86.00,221.05 85.75,223.70 85.50,226.35 85.25,229.00 85.00,231.50 84.75,234.00 84.50,236.50 84.25,239.00 84.00,241.50 83.75,243.50 83.50,245.50 83.25,247.50 83.00,249.50 82.75,251.50 82.50,256.75 82.25,262.00 82.00,267.25 81.75,272.50 81.50,277.75 81.25,277.75 81.00,277.75 80.75,277.75 80.50,277.75 80.25,277.75 80.00,277.75 79.75,277.75 79.50,277.75 79.25,275.00 79.00,272.25 78.75,269.50 78.50,266.75 78.25,264.00 78.00,262.75 77.75,261.50 77.50,260.25 77.25,259.00 77.00,257.75 76.75,257.00 76.50,256.25 76.25,255.50 76.00,254.75 75.75,254.00 75.50,254.50 75.25,257.75 75.00,257.75 74.75,257.75 74.50,257.75 74.25,257.75 74.00,257.75 73.75,257.75 73.50,257.75 73.25,257.75 73.00,254.00 72.75,250.25 72.50,247.00 72.25,250.50 72.00,254.00 71.75,254.00 71.50,254.00 71.25,254.00 71.00,254.00 70.75,254.00 70.50,254.00 70.25,254.00 70.00,254.00 69.80,250.42 69.75,249.52 69.50,245.04 69.25,240.56 69.00,236.08 68.80,232.50 68.75,231.58 68.50,226.95 68.25,222.33 68.10,219.55 68.00,217.70 67.75,213.50 67.50,211.00 67.30,209.00 67.25,208.98 67.00,209.42 66.75,211.71 66.50,214.00 66.25,219.12 66.10,222.20 66.00,224.25 65.75,229.38 65.50,234.50 65.25,234.50 65.00,234.50 64.75,234.50 64.50,234.50 64.25,234.50 64.00,234.50 63.75,234.50 63.70,232.47 63.50,234.50 63.25,224.34 63.00,214.19 62.75,204.03 62.50,198.57 62.25,194.29 62.10,191.71 62.00,190.00 61.75,190.33 61.50,190.67 61.25,191.00 61.00,191.33 60.75,191.67 60.50,192.00 60.25,192.45 60.00,192.89 59.75,193.34 59.50,193.79 59.25,194.23 59.00,197.00 58.75,203.25 58.50,209.50 58.25,215.75 58.10,219.50 58.00,222.00 57.75,228.25 57.50,228.25 57.25,228.25 57.00,228.25 56.75,228.25 56.70,229.50 56.50,228.25 56.25,228.25 56.00,228.25 55.75,228.25 55.50,228.03 55.25,226.19 55.00,224.35 54.75,222.51 54.50,220.68 54.25,218.84 54.10,217.74 54.00,217.00 53.75,213.94 53.50,210.89 53.25,207.83 53.00,205.45 52.75,204.09 52.50,202.73 52.25,201.36 52.00,200.00 51.75,199.50 51.50,199.00 51.25,198.50 51.00,198.00 50.75,197.00 50.50,196.00 50.25,195.00 50.00,194.00 49.75,185.50 49.50,177.00 49.25,176.00 49.00,176.00" fill="#e0e1e3"/><polyline points="49.00,142.00 50.00,126.00 51.00,160.00 52.00,164.00 53.00,166.00 54.10,172.00 55.00,183.00 56.70,195.50 58.10,160.50 59.50,158.00 61.00,156.00 62.10,151.00 63.00,156.00 63.70,168.00 64.50,200.50 65.50,180.00 66.10,174.50 67.30,175.00 68.10,173.00 68.80,180.00 69.80,198.50 71.00,220.00 72.25,202.50 73.00,205.00 74.25,223.75 75.50,207.50 76.75,220.00 78.00,223.75 79.25,230.00 80.50,243.75 81.75,217.50 83.00,207.50 84.25,195.00 85.50,181.75 86.75,183.00 88.00,195.50 89.25,198.00 90.50,190.50 91.75,203.00 93.00,200.00 94.25,204.00 95.50,190.50 96.75,189.25 98.00,195.50 99.25,205.00 100.50,193.00 101.75,184.25 103.00,184.25 104.25,178.00 105.50,175.50 106.75,193.00 108.00,228.75 109.25,233.75 110.00,215.00 111.00,225.00 111.75,210.00 113.00,190.00 114.25,175.50 115.50,183.00 116.75,168.00 118.00,155.50 119.25,143.00 120.50,145.50 121.75,128.00 122.50,104.75 124.25,128.00 125.50,145.50 126.75,143.00 128.00,150.50 129.25,168.00 130.50,184.25 131.75,186.75 133.00,203.00 134.25,206.25 135.50,216.25 136.75,195.00 138.00,168.00 139.25,148.00 140.00,134.25 141.00,135.50 141.75,155.50 143.00,143.00 144.25,158.00 145.50,180.50 146.75,181.75 148.00,193.00 149.25,220.00 150.50,237.50 151.75,225.00 153.00,238.75 154.25,227.50 155.50,213.75 156.75,225.00 158.00,232.50 159.75,248.75 161.00,205.00 162.00,182.00 163.50,176.00 165.00,173.00 166.50,172.00 168.30,174.40 170.30,184.50 171.30,160.00 172.30,140.00 174.25,145.50 175.50,148.00 176.75,150.50 178.00,153.00 179.25,125.50 180.50,129.25 181.75,123.00 183.25,96.00 184.25,128.00 185.50,143.00 186.75,144.25 188.00,143.00 189.25,151.75 190.50,136.75 191.75,150.50 193.00,178.00 193.75,194.25 195.50,173.00 196.75,165.50 197.50,173.00 198.00,155.50 199.25,120.00 200.10,97.00 201.00,110.00 202.50,130.30 203.50,115.00 204.50,100.00 205.50,106.00 206.70,118.20 207.50,112.10 208.50,128.20 209.50,130.00 210.50,144.30 211.50,155.00 212.50,153.40 213.20,158.00 213.70,177.60 214.90,205.20 216.00,211.00 217.20,212.10 218.00,208.00 219.00,196.00 220.00,216.70 220.70,200.00 221.80,175.30 223.00,169.50 224.20,170.00 225.20,168.40 225.90,182.20 226.70,160.00 227.50,131.75 228.75,143.00 230.00,168.00 231.00,173.00 232.00,177.00 232.80,186.80 234.00,224.00 234.90,217.00 235.70,221.00 236.70,219.00 237.80,212.00 239.00,205.20 240.10,210.00 241.20,196.00 242.50,190.20 243.60,203.00 244.80,196.00 245.90,178.00 247.10,168.40 248.25,188.00 249.50,168.00 250.75,180.50 252.00,198.00 253.25,203.75 254.50,183.00 255.75,174.25 257.00,206.25 258.25,175.50 259.50,154.25 260.75,154.25 261.50,133.00 262.50,108.50 263.75,139.25 265.25,113.50 266.00,125.50 267.00,143.00 267.90,161.50 269.50,170.00 270.70,199.00 272.50,133.00 273.25,102.25 274.50,124.25 275.75,125.50 276.50,150.50 277.50,130.50 278.50,133.00 279.50,150.50 280.80,165.00 282.20,170.00 283.70,171.60 284.50,193.00 285.70,221.80 287.10,244.80 288.60,221.80 290.00,207.50 291.40,201.70 292.50,205.00 293.70,204.60 295.20,193.10 296.00,176.00 297.00,180.00 298.60,170.10 299.50,193.10 300.90,207.50 302.40,227.60 303.80,230.50 305.75,222.50 307.00,225.00 308.25,223.75 309.50,225.00 310.75,232.50 312.00,235.00 313.25,232.50 314.50,240.00 315.75,243.75 317.00,248.75 317.75,232.50 319.00,227.50 320.25,223.75 321.00,237.50 322.00,241.25 323.25,242.50 324.50,236.25 325.75,238.75 327.00,231.25 328.25,241.25 329.50,243.75 330.75,257.00 332.00,240.00 332.75,228.75 333.75,242.50 334.50,237.50 335.75,238.75 337.00,242.50 338.25,246.25 339.50,222.50 340.75,216.25 342.00,205.00 343.25,197.00 344.50,188.00 345.75,173.00 347.00,164.25 348.25,160.50 349.50,163.00 350.75,168.00 352.00,171.75 353.25,185.50 354.00,211.25 354.75,200.00 356.00,168.00 357.00,150.50 358.10,140.00 358.70,130.00 360.70,101.80 362.70,66.00 363.70,70.00 364.90,66.00 365.90,76.00 367.30,101.80 368.70,116.00 369.20,125.50 370.50,135.90 371.80,146.20 373.10,125.50 374.40,135.00 375.70,148.80 377.00,156.50 378.30,150.00 379.60,138.40 380.90,156.50 381.80,162.00 382.70,159.10 383.40,169.50 384.70,179.80 385.50,185.00 386.50,188.00 388.00,195.30" fill="none" stroke="#3a3a3c" stroke-width="1.7" stroke-linejoin="round"/><rect x="48.8" y="16.0" width="339.09999999999997" height="288.9" fill="none" stroke="#4a4a4c" stroke-width="1.5"/><line x1="91.19" y1="304.9" x2="91.19" y2="299.90" stroke="#4a4a4c" stroke-width="1.5"/><line x1="91.19" y1="16.0" x2="91.19" y2="21.00" stroke="#4a4a4c" stroke-width="1.5"/><line x1="133.57" y1="304.9" x2="133.57" y2="299.90" stroke="#4a4a4c" stroke-width="1.5"/><line x1="133.57" y1="16.0" x2="133.57" y2="21.00" stroke="#4a4a4c" stroke-width="1.5"/><line x1="175.96" y1="304.9" x2="175.96" y2="299.90" stroke="#4a4a4c" stroke-width="1.5"/><line x1="175.96" y1="16.0" x2="175.96" y2="21.00" stroke="#4a4a4c" stroke-width="1.5"/><line x1="218.35" y1="304.9" x2="218.35" y2="299.90" stroke="#4a4a4c" stroke-width="1.5"/><line x1="218.35" y1="16.0" x2="218.35" y2="21.00" stroke="#4a4a4c" stroke-width="1.5"/><line x1="260.74" y1="304.9" x2="260.74" y2="299.90" stroke="#4a4a4c" stroke-width="1.5"/><line x1="260.74" y1="16.0" x2="260.74" y2="21.00" stroke="#4a4a4c" stroke-width="1.5"/><line x1="303.12" y1="304.9" x2="303.12" y2="299.90" stroke="#4a4a4c" stroke-width="1.5"/><line x1="303.12" y1="16.0" x2="303.12" y2="21.00" stroke="#4a4a4c" stroke-width="1.5"/><line x1="345.51" y1="304.9" x2="345.51" y2="299.90" stroke="#4a4a4c" stroke-width="1.5"/><line x1="345.51" y1="16.0" x2="345.51" y2="21.00" stroke="#4a4a4c" stroke-width="1.5"/><line x1="48.8" y1="263.63" x2="52.10" y2="263.63" stroke="#4a4a4c" stroke-width="1.5"/><line x1="387.9" y1="263.63" x2="384.60" y2="263.63" stroke="#4a4a4c" stroke-width="1.5"/><line x1="48.8" y1="222.36" x2="52.10" y2="222.36" stroke="#4a4a4c" stroke-width="1.5"/><line x1="387.9" y1="222.36" x2="384.60" y2="222.36" stroke="#4a4a4c" stroke-width="1.5"/><line x1="48.8" y1="181.09" x2="52.10" y2="181.09" stroke="#4a4a4c" stroke-width="1.5"/><line x1="387.9" y1="181.09" x2="384.60" y2="181.09" stroke="#4a4a4c" stroke-width="1.5"/><line x1="48.8" y1="139.81" x2="52.10" y2="139.81" stroke="#4a4a4c" stroke-width="1.5"/><line x1="387.9" y1="139.81" x2="384.60" y2="139.81" stroke="#4a4a4c" stroke-width="1.5"/><line x1="48.8" y1="98.54" x2="52.10" y2="98.54" stroke="#4a4a4c" stroke-width="1.5"/><line x1="387.9" y1="98.54" x2="384.60" y2="98.54" stroke="#4a4a4c" stroke-width="1.5"/><line x1="48.8" y1="57.27" x2="52.10" y2="57.27" stroke="#4a4a4c" stroke-width="1.5"/><line x1="387.9" y1="57.27" x2="384.60" y2="57.27" stroke="#4a4a4c" stroke-width="1.5"/><text x="91.19" y="323.2" font-family="'Liberation Sans', sans-serif" font-size="14.9" fill="#231f20" text-anchor="middle">0.2</text><text x="133.57" y="323.2" font-family="'Liberation Sans', sans-serif" font-size="14.9" fill="#231f20" text-anchor="middle">0.4</text><text x="175.96" y="323.2" font-family="'Liberation Sans', sans-serif" font-size="14.9" fill="#231f20" text-anchor="middle">0.6</text><text x="218.35" y="323.2" font-family="'Liberation Sans', sans-serif" font-size="14.9" fill="#231f20" text-anchor="middle">0.8</text><text x="260.74" y="323.2" font-family="'Liberation Sans', sans-serif" font-size="14.9" fill="#231f20" text-anchor="middle">1.0</text><text x="303.12" y="323.2" font-family="'Liberation Sans', sans-serif" font-size="14.9" fill="#231f20" text-anchor="middle">1.2</text><text x="345.51" y="323.2" font-family="'Liberation Sans', sans-serif" font-size="14.9" fill="#231f20" text-anchor="middle">1.4</text><text x="387.90" y="323.2" font-family="'Liberation Sans', sans-serif" font-size="14.9" fill="#231f20" text-anchor="middle">1.6</text><text x="42" y="268.83" font-family="'Liberation Sans', sans-serif" font-size="14.9" fill="#231f20" text-anchor="end">−4</text><text x="42" y="227.56" font-family="'Liberation Sans', sans-serif" font-size="14.9" fill="#231f20" text-anchor="end">−2</text><text x="42" y="186.29" font-family="'Liberation Sans', sans-serif" font-size="14.9" fill="#231f20" text-anchor="end">0</text><text x="42" y="145.01" font-family="'Liberation Sans', sans-serif" font-size="14.9" fill="#231f20" text-anchor="end">2</text><text x="42" y="103.74" font-family="'Liberation Sans', sans-serif" font-size="14.9" fill="#231f20" text-anchor="end">4</text><text x="42" y="62.47" font-family="'Liberation Sans', sans-serif" font-size="14.9" fill="#231f20" text-anchor="end">6</text><text x="218.3" y="344.3" font-family="'Liberation Sans', sans-serif" font-size="14.9" fill="#231f20" text-anchor="middle">Time (s)</text><text transform="translate(12.3,160) rotate(-90)" x="0" y="0" font-family="'Liberation Sans', sans-serif" font-size="14.9" fill="#231f20" text-anchor="middle">Hit rate variations (%)</text><text x="-1.1" y="15.2" font-family="'Liberation Sans', sans-serif" font-size="21" font-weight="bold" fill="#231f20">a</text><ellipse cx="497" cy="226" rx="11" ry="47" fill="#fbfbfb"/><polygon points="502.30,124.00 503.50,109.90 504.50,98.40 505.50,88.40 506.90,82.60 507.90,80.00 509.40,80.50 510.40,84.10 511.50,89.80 513.00,97.00 514.40,104.20 515.80,109.20 517.25,111.20 518.54,110.60 520.58,108.50 522.15,107.30 524.00,105.80 525.60,105.10 526.80,106.00 528.50,108.50 530.50,112.50 532.50,119.00 534.30,125.50 535.80,132.00 537.20,138.70 539.40,147.30 541.50,156.00 544.30,164.60 547.10,171.00 550.10,175.30 552.90,175.80 555.10,174.30 557.20,170.00 559.50,165.00 562.40,160.00 565.50,155.60 569.50,150.80 573.40,144.50 576.60,136.60 578.80,128.70 580.80,120.80 582.60,112.90 584.30,105.00 585.80,98.00 587.30,91.00 588.80,84.00 590.30,77.00 591.80,70.50 593.40,63.00 595.30,53.30 597.30,45.50 599.20,39.10 601.20,33.20 603.50,28.30 605.60,25.00 608.10,21.90 611.00,20.50 613.10,20.20 615.30,20.50 618.10,22.60 621.00,26.20 623.90,30.50 626.80,36.20 629.60,42.70 632.50,49.90 635.50,56.50 638.00,62.50 639.80,66.00 643.50,77.00 647.40,88.60 651.30,99.00 653.90,106.50 655.30,109.50 657.70,115.50 661.60,122.00 666.80,126.90 672.00,130.00 677.10,132.00 682.00,132.80 682.00,141.50 673.30,140.50 666.80,138.00 660.30,133.30 655.20,126.10 651.30,117.10 648.40,109.60 644.80,99.00 640.90,88.60 637.10,77.00 633.00,65.00 631.00,60.50 628.50,54.50 625.30,48.40 622.40,43.40 619.60,39.10 616.70,36.20 615.00,35.20 613.50,35.20 610.90,35.80 608.30,37.80 605.70,41.00 603.10,45.50 601.20,50.70 599.20,57.20 597.70,64.30 595.90,71.50 594.40,77.50 592.80,84.00 591.20,91.00 589.40,98.00 587.80,105.00 586.00,112.90 584.20,120.80 582.30,128.70 579.90,136.60 577.10,144.50 573.40,151.60 569.50,157.10 567.10,160.00 563.00,166.50 560.00,173.20 557.20,179.70 554.00,185.00 550.80,186.80 547.60,185.00 544.30,179.70 542.20,173.20 540.00,165.60 537.90,157.00 535.70,147.30 533.50,138.70 531.40,130.10 529.20,123.60 527.50,121.00 526.10,119.10 524.10,117.60 522.15,117.80 520.30,118.50 518.54,119.60 517.25,120.70 515.80,119.70 514.40,115.70 513.00,109.90 511.50,102.70 510.40,95.60 509.40,89.80 508.40,86.90 507.50,91.20 505.90,101.30 505.20,112.80 504.50,124.00" fill="#dcdddf"/><polyline points="487.90,250.50 489.20,257.50 490.70,264.00 491.60,262.00 492.60,255.00 493.80,246.50 495.00,237.50 496.30,228.00 497.50,217.00 498.40,205.00 499.20,190.00 499.60,181.00" fill="none" stroke="#dcdddf" stroke-width="2.2" stroke-linejoin="round" stroke-linecap="round"/><polyline points="499.60,182.00 501.50,153.00 503.40,124.50 503.90,117.00" fill="none" stroke="#747579" stroke-width="2.2" stroke-linejoin="round"/><polygon points="502.30,124.00 503.50,109.90 504.50,98.40 505.50,88.40 506.90,82.60 507.90,80.00 509.40,80.50 510.40,84.10 511.50,89.80 513.00,97.00 514.40,104.20 515.80,109.20 517.25,111.20 518.54,110.60 520.58,108.50 522.15,107.30 524.00,105.80 525.60,105.10 526.60,105.85 526.20,110.50 524.60,113.60 522.50,116.00 521.00,118.24 520.30,118.50 518.54,119.60 517.25,120.70 515.80,119.70 514.40,115.70 513.00,109.90 511.50,102.70 510.40,95.60 509.40,89.80 508.40,86.90 507.50,91.20 505.90,101.30 505.20,112.80 504.50,124.00" fill="#747579"/><polygon points="593.90,60.45 595.30,53.30 597.30,45.50 599.20,39.10 601.20,33.20 603.50,28.30 605.60,25.00 608.10,21.90 611.00,20.50 613.10,20.20 615.30,20.50 618.10,22.60 621.00,26.20 623.90,30.50 626.80,36.20 629.60,42.70 632.50,49.90 635.50,56.50 638.00,62.50 639.80,66.00 643.50,77.00 647.40,88.60 651.30,99.00 653.90,106.50 655.30,109.50 648.40,109.60 644.80,99.00 640.90,88.60 637.10,77.00 633.00,65.00 631.00,60.50 628.50,54.50 625.30,48.40 622.40,43.40 619.60,39.10 616.70,36.20 615.00,35.20 613.50,35.20 610.90,35.80 608.30,37.80 605.70,41.00 603.10,45.50 601.20,50.70 599.20,57.20 597.80,63.83" fill="#747579"/><rect x="484.5" y="15.7" width="197.60000000000002" height="289.6" fill="none" stroke="#4a4a4c" stroke-width="1.4"/><line x1="497.10" y1="305.3" x2="497.10" y2="300.50" stroke="#4a4a4c" stroke-width="1.4"/><line x1="497.10" y1="15.7" x2="497.10" y2="20.50" stroke="#4a4a4c" stroke-width="1.4"/><text x="497.10" y="323.2" font-family="'Liberation Sans', sans-serif" font-size="14.9" fill="#231f20" text-anchor="middle">2</text><line x1="522.89" y1="305.3" x2="522.89" y2="300.50" stroke="#4a4a4c" stroke-width="1.4"/><line x1="522.89" y1="15.7" x2="522.89" y2="20.50" stroke="#4a4a4c" stroke-width="1.4"/><text x="522.89" y="323.2" font-family="'Liberation Sans', sans-serif" font-size="14.9" fill="#231f20" text-anchor="middle">4</text><line x1="548.67" y1="305.3" x2="548.67" y2="300.50" stroke="#4a4a4c" stroke-width="1.4"/><line x1="548.67" y1="15.7" x2="548.67" y2="20.50" stroke="#4a4a4c" stroke-width="1.4"/><text x="548.67" y="323.2" font-family="'Liberation Sans', sans-serif" font-size="14.9" fill="#231f20" text-anchor="middle">6</text><line x1="574.46" y1="305.3" x2="574.46" y2="300.50" stroke="#4a4a4c" stroke-width="1.4"/><line x1="574.46" y1="15.7" x2="574.46" y2="20.50" stroke="#4a4a4c" stroke-width="1.4"/><text x="574.46" y="323.2" font-family="'Liberation Sans', sans-serif" font-size="14.9" fill="#231f20" text-anchor="middle">8</text><line x1="600.24" y1="305.3" x2="600.24" y2="300.50" stroke="#4a4a4c" stroke-width="1.4"/><line x1="600.24" y1="15.7" x2="600.24" y2="20.50" stroke="#4a4a4c" stroke-width="1.4"/><text x="600.24" y="323.2" font-family="'Liberation Sans', sans-serif" font-size="14.9" fill="#231f20" text-anchor="middle">10</text><line x1="626.03" y1="305.3" x2="626.03" y2="300.50" stroke="#4a4a4c" stroke-width="1.4"/><line x1="626.03" y1="15.7" x2="626.03" y2="20.50" stroke="#4a4a4c" stroke-width="1.4"/><text x="626.03" y="323.2" font-family="'Liberation Sans', sans-serif" font-size="14.9" fill="#231f20" text-anchor="middle">12</text><line x1="651.81" y1="305.3" x2="651.81" y2="300.50" stroke="#4a4a4c" stroke-width="1.4"/><line x1="651.81" y1="15.7" x2="651.81" y2="20.50" stroke="#4a4a4c" stroke-width="1.4"/><text x="651.81" y="323.2" font-family="'Liberation Sans', sans-serif" font-size="14.9" fill="#231f20" text-anchor="middle">14</text><line x1="677.60" y1="305.3" x2="677.60" y2="300.50" stroke="#4a4a4c" stroke-width="1.4"/><line x1="677.60" y1="15.7" x2="677.60" y2="20.50" stroke="#4a4a4c" stroke-width="1.4"/><text x="677.60" y="323.2" font-family="'Liberation Sans', sans-serif" font-size="14.9" fill="#231f20" text-anchor="middle">16</text><line x1="484.5" y1="305.30" x2="486.70" y2="305.30" stroke="#4a4a4c" stroke-width="1.4"/><line x1="682.1" y1="305.30" x2="679.90" y2="305.30" stroke="#4a4a4c" stroke-width="1.4"/><text x="477.5" y="310.50" font-family="'Liberation Sans', sans-serif" font-size="14.9" fill="#231f20" text-anchor="end">0</text><line x1="484.5" y1="263.93" x2="486.70" y2="263.93" stroke="#4a4a4c" stroke-width="1.4"/><line x1="682.1" y1="263.93" x2="679.90" y2="263.93" stroke="#4a4a4c" stroke-width="1.4"/><text x="477.5" y="269.13" font-family="'Liberation Sans', sans-serif" font-size="14.9" fill="#231f20" text-anchor="end">0.05</text><line x1="484.5" y1="222.56" x2="486.70" y2="222.56" stroke="#4a4a4c" stroke-width="1.4"/><line x1="682.1" y1="222.56" x2="679.90" y2="222.56" stroke="#4a4a4c" stroke-width="1.4"/><text x="477.5" y="227.76" font-family="'Liberation Sans', sans-serif" font-size="14.9" fill="#231f20" text-anchor="end">0.1</text><line x1="484.5" y1="181.19" x2="486.70" y2="181.19" stroke="#4a4a4c" stroke-width="1.4"/><line x1="682.1" y1="181.19" x2="679.90" y2="181.19" stroke="#4a4a4c" stroke-width="1.4"/><text x="477.5" y="186.39" font-family="'Liberation Sans', sans-serif" font-size="14.9" fill="#231f20" text-anchor="end">0.15</text><line x1="484.5" y1="139.81" x2="486.70" y2="139.81" stroke="#4a4a4c" stroke-width="1.4"/><line x1="682.1" y1="139.81" x2="679.90" y2="139.81" stroke="#4a4a4c" stroke-width="1.4"/><text x="477.5" y="145.01" font-family="'Liberation Sans', sans-serif" font-size="14.9" fill="#231f20" text-anchor="end">0.2</text><line x1="484.5" y1="98.44" x2="486.70" y2="98.44" stroke="#4a4a4c" stroke-width="1.4"/><line x1="682.1" y1="98.44" x2="679.90" y2="98.44" stroke="#4a4a4c" stroke-width="1.4"/><text x="477.5" y="103.64" font-family="'Liberation Sans', sans-serif" font-size="14.9" fill="#231f20" text-anchor="end">0.25</text><line x1="484.5" y1="57.07" x2="486.70" y2="57.07" stroke="#4a4a4c" stroke-width="1.4"/><line x1="682.1" y1="57.07" x2="679.90" y2="57.07" stroke="#4a4a4c" stroke-width="1.4"/><text x="477.5" y="62.27" font-family="'Liberation Sans', sans-serif" font-size="14.9" fill="#231f20" text-anchor="end">0.3</text><line x1="484.5" y1="15.70" x2="486.70" y2="15.70" stroke="#4a4a4c" stroke-width="1.4"/><line x1="682.1" y1="15.70" x2="679.90" y2="15.70" stroke="#4a4a4c" stroke-width="1.4"/><text x="477.5" y="20.90" font-family="'Liberation Sans', sans-serif" font-size="14.9" fill="#231f20" text-anchor="end">0.35</text><text x="583.4" y="344.0" font-family="'Liberation Sans', sans-serif" font-size="14.9" fill="#231f20" text-anchor="middle">Frequency (Hz)</text><text transform="translate(435.8,160) rotate(-90)" x="0" y="0" font-family="'Liberation Sans', sans-serif" font-size="14.9" fill="#231f20" text-anchor="middle">Power (1/<tspan font-style="italic">f</tspan> normalized, a.u.)</text><text x="423" y="15.9" font-family="'Liberation Sans', sans-serif" font-size="21" font-weight="bold" fill="#231f20">b</text></svg>
</body></html>
